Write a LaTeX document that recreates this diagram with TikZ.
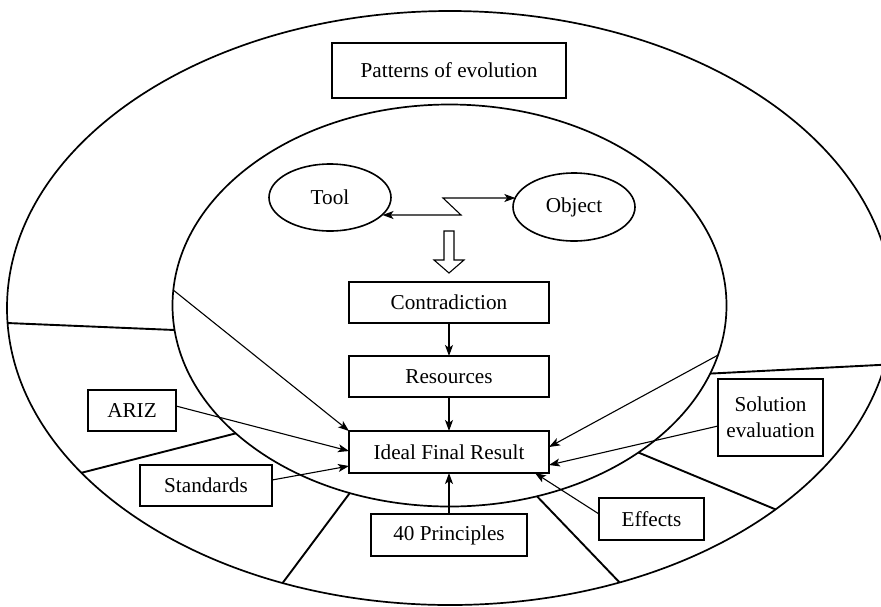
\documentclass[tikz,border=0pt]{standalone}
\usepackage{fontspec}
\setmainfont{Liberation Serif}
\usetikzlibrary{arrows.meta,shapes.geometric}
\begin{document}
\begin{tikzpicture}[x=0.5pt,y=-0.5pt,
  >={Stealth[length=5.5pt,width=4pt,inset=1.4pt]},
  txt/.style={font=\fontsize{10.6}{13}\selectfont},
  box/.style={draw,line width=0.9pt,rectangle,inner sep=0pt,outer sep=0pt,txt,align=center},
  oval/.style={draw,line width=0.8pt,ellipse,inner sep=0pt,outer sep=0pt,txt},
  ring/.style={line width=0.85pt},
  divider/.style={line width=0.95pt},
  link/.style={line width=0.55pt,->},
]
\useasboundingbox (0,0) rectangle (881,606);

% outer and inner rings with the sector dividers
\begin{scope}
  \clip (0,0) rectangle (881,606);
  \draw[ring] (450,308) ellipse [x radius=443, y radius=297];
  \draw[ring] (449.5,305.5) ellipse [x radius=277, y radius=201];
  \foreach \to/\ti [count=\k] in {177.1/173, 146.3/140.5, 112.2/111.1, 67.5/71.6, 42.7/47, 11/19.8}{
    \path (450,308) ++(\to:443 and 297) coordinate (o\k);
    \path (449.5,305.5) ++(\ti:277 and 201) coordinate (i\k);
    \draw[divider] (o\k) -- (i\k);
  }
\end{scope}
\path (449.5,305.5) ++(184.4:277 and 201) coordinate (inL);
\path (449.5,305.5) ++(14.3:277 and 201) coordinate (inR);

% boxes and ovals
\node[box,minimum width=117pt,minimum height=27.5pt] (poe) at (449,70.5) {Patterns of evolution};
\node[oval,minimum width=61pt,minimum height=33.5pt] (tool) at (330,197.5) {Tool};
\node[oval,minimum width=61pt,minimum height=34pt] (obj) at (574,207) {Object};
\node[box,minimum width=100pt,minimum height=20.5pt] (con) at (449,302.5) {Contradiction};
\node[box,minimum width=100pt,minimum height=20.5pt] (res) at (449,376.5) {Resources};
\node[box,minimum width=100pt,minimum height=21pt] (ifr) at (449,452) {Ideal Final Result};
\node[box,minimum width=78pt,minimum height=21pt] (p40) at (449,535) {40 Principles};
\node[box,minimum width=44pt,minimum height=20.5pt] (ariz) at (132,410.5) {ARIZ};
\node[box,minimum width=66pt,minimum height=20.5pt] (std) at (206,485.5) {Standards};
\node[box,minimum width=52.5pt,minimum height=38.5pt] (sol) at (770.5,417.5) {Solution\\evaluation};
\node[box,minimum width=52.5pt,minimum height=21pt] (eff) at (651.5,519) {Effects};

% tool--object interaction zigzag
\coordinate (zA) at (461,215);
\coordinate (zB) at (443,198);
\draw[line width=0.55pt,<->] (tool.-18.6 |- zA) -- (zA) -- (zB) -- (obj.171.6 |- zB);

% hollow arrow down to the contradiction
\draw[line width=0.55pt] (444,231) -- (454,231) -- (454,260) -- (464,260) -- (449,273)
  -- (434,260) -- (444,260) -- cycle;

% flow into the ideal final result
\draw[link] (con.south) -- (res.north);
\draw[link] (res.south) -- (ifr.north);
\draw[link] (p40.north) -- (ifr.south);
\draw[link] ([yshift=2.25pt]ariz.east) -- ([yshift=0.5pt]ifr.west);
\draw[link] ([yshift=2.75pt]std.east) -- ([yshift=-7pt]ifr.west);
\draw[link] (inL) -- (ifr.north west);
\draw[link] (inR) -- ([yshift=2.5pt]ifr.east);
\draw[link] ([yshift=-4.25pt]sol.west) -- ([yshift=-6.5pt]ifr.east);
\draw[link] ([yshift=2.5pt]eff.west) -- ([xshift=43pt]ifr.south);
\end{tikzpicture}
\end{document}
